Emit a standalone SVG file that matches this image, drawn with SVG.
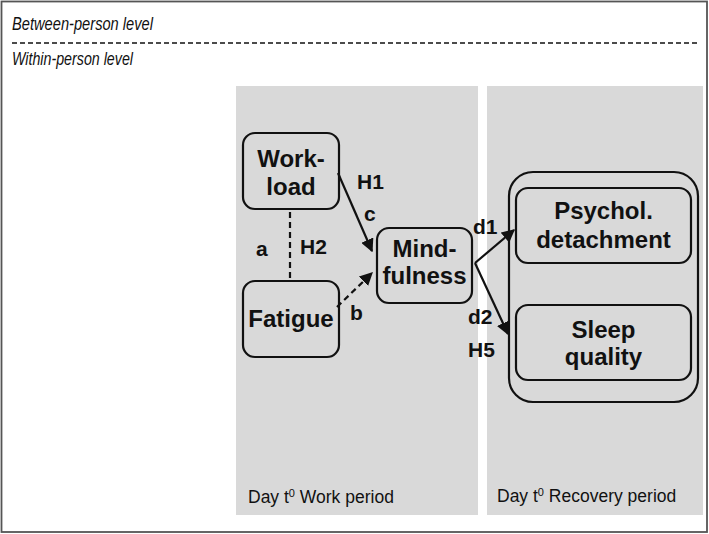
<svg xmlns="http://www.w3.org/2000/svg" width="709" height="534" viewBox="0 0 709 534">
<defs>
<style>
.lvl{font-family:"Liberation Sans",Arial,sans-serif;font-size:18px;font-style:italic;fill:#111}
.per{font-family:"Liberation Sans",Arial,sans-serif;font-size:17.5px;fill:#111}
.nt{font-family:"Liberation Sans",Arial,sans-serif;font-size:24px;font-weight:bold;fill:#111;text-anchor:middle}
.lb{font-family:"Liberation Sans",Arial,sans-serif;font-size:21px;font-weight:bold;fill:#111}
.box{fill:#d9d9d9;stroke:#111;stroke-width:2.2}
.panel{fill:#d9d9d9}
.ln{stroke:#111;stroke-width:2.2;fill:none}
</style>
<marker id="ah" viewBox="0 0 10 10" refX="9" refY="5" markerWidth="6" markerHeight="6" orient="auto" markerUnits="strokeWidth">
<path d="M0,0 L10,5 L0,10 z" fill="#111"/>
</marker>
</defs>
<rect x="0" y="0" width="709" height="534" fill="#fff"/>
<rect x="1.5" y="1.5" width="705.5" height="530.5" fill="none" stroke="#555" stroke-width="1.8"/>
<text class="lvl" x="12" y="30" textLength="141" lengthAdjust="spacingAndGlyphs">Between-person level</text>
<line x1="12" y1="43" x2="697" y2="43" stroke="#111" stroke-width="1.4" stroke-dasharray="5,3"/>
<text class="lvl" x="12" y="65" textLength="121" lengthAdjust="spacingAndGlyphs">Within-person level</text>

<g id="panel-work">
<rect class="panel" x="236" y="86" width="242" height="429"/>
<text class="per" x="248" y="503">Day t<tspan font-size="11" dy="-6">0</tspan><tspan dy="6"> Work period</tspan></text>
</g>
<g id="panel-recovery">
<rect class="panel" x="487" y="86" width="216" height="429"/>
<text class="per" x="497" y="502">Day t<tspan font-size="11" dy="-6">0</tspan><tspan dy="6"> Recovery period</tspan></text>
</g>

<g id="workload">
<rect class="box" x="243" y="133" width="96" height="76" rx="12"/>
<text class="nt" x="291" y="167">Work-</text>
<text class="nt" x="291" y="195">load</text>
</g>
<g id="fatigue">
<rect class="box" x="243" y="281" width="96" height="76" rx="12"/>
<text class="nt" x="291" y="327">Fatigue</text>
</g>
<g id="mindfulness">
<rect class="box" x="377" y="228" width="95" height="75" rx="12"/>
<text class="nt" x="424.5" y="257">Mind-</text>
<text class="nt" x="424.5" y="284">fulness</text>
</g>
<g id="outcomes">
<rect class="box" x="509" y="172" width="189" height="230" rx="24"/>
</g>
<g id="detachment">
<rect class="box" x="516" y="188" width="175" height="75" rx="12"/>
<text class="nt" x="603.5" y="219">Psychol.</text>
<text class="nt" x="603.5" y="248">detachment</text>
</g>
<g id="sleep">
<rect class="box" x="516" y="305" width="175" height="75" rx="12"/>
<text class="nt" x="603.5" y="338">Sleep</text>
<text class="nt" x="603.5" y="365">quality</text>
</g>

<g id="connectors">
<line class="ln" x1="290" y1="212" x2="290" y2="280" stroke-dasharray="6,4"/>
<line class="ln" x1="338" y1="173" x2="372" y2="251" marker-end="url(#ah)"/>
<line class="ln" x1="337" y1="307" x2="372" y2="273" stroke-dasharray="6,4" marker-end="url(#ah)"/>
<line class="ln" x1="475" y1="263" x2="514" y2="230" marker-end="url(#ah)"/>
<line class="ln" x1="475" y1="263" x2="508" y2="334" marker-end="url(#ah)"/>
<text class="lb" x="256" y="256">a</text>
<text class="lb" x="300" y="254">H2</text>
<text class="lb" x="357" y="189">H1</text>
<text class="lb" x="364" y="221">c</text>
<text class="lb" x="350" y="320">b</text>
<text class="lb" x="473" y="234">d1</text>
<text class="lb" x="468" y="324">d2</text>
<text class="lb" x="468" y="357">H5</text>
</g>
</svg>
